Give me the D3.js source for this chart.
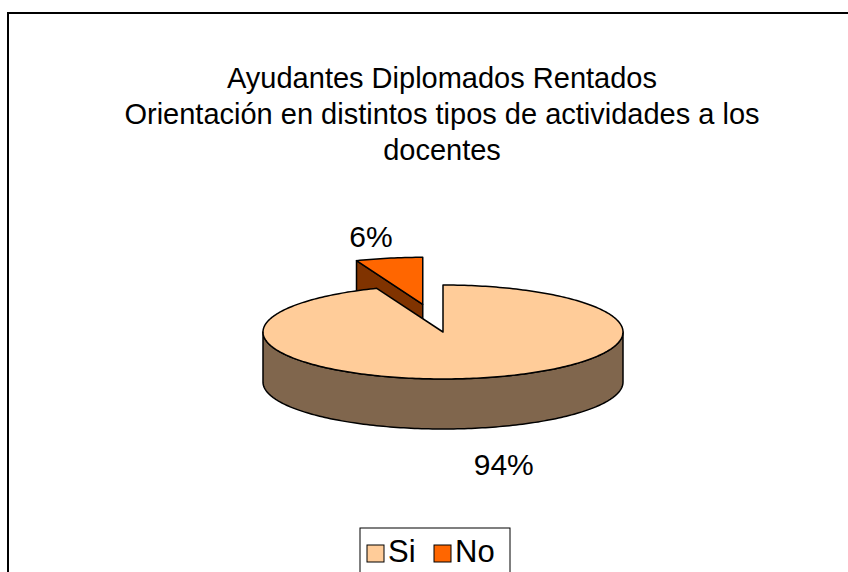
<!DOCTYPE html>
<html>
<head>
<meta charset="utf-8">
<script src="https://cdn.jsdelivr.net/npm/d3@7/dist/d3.min.js"></script>
<style>
  html, body { margin: 0; padding: 0; background: #fff; }
  svg { display: block; }
  text { font-family: "Liberation Sans", Arial, sans-serif; fill: #000; }
</style>
</head>
<body>
<svg id="chart" width="848" height="572"></svg>
<script>
// Survey answers and their shares (percent)
const categories = ["Si", "No"];
const values = [94, 6];
const topColors = ["#FFCC99", "#FF6600"];
const titleLines = [
  "Ayudantes Diplomados Rentados",
  "Orientación en distintos tipos de actividades a los",
  "docentes"
];

const W = 848, H = 572;
const svg = d3.select("#chart");

// outer chart frame (extends past the right and bottom edges)
svg.append("rect")
  .attr("x", 8).attr("y", 13)
  .attr("width", W + 20).attr("height", H + 20)
  .attr("fill", "#fff").attr("stroke", "#000").attr("stroke-width", 2);

// title
const title = svg.append("text")
  .attr("text-anchor", "middle")
  .style("font-size", "29px");
titleLines.forEach((t, i) => {
  title.append("tspan").attr("x", 442).attr("y", 88 + i * 36).text(t);
});

// 3D pie geometry
const cx = 443, cy = 332;
const rx = 180, tilt = 0.261;   // vertical squash of the disc
const depth = 50;
const explode = [0, 0.6];       // fraction of rx each slice is pulled out

const darken = c => { const r = d3.rgb(c); return d3.rgb(r.r / 2, r.g / 2, r.b / 2).toString(); };

const pie = d3.pie().sort(null).startAngle(0).endAngle(2 * Math.PI)(values);

// point on the disc: angle clockwise from 12 o'clock, radius r, lifted by z
function P(o, a, r, z) {
  return [o[0] + r * Math.sin(a), o[1] - r * Math.cos(a) * tilt + (z || 0)];
}
function arcPts(o, a0, a1, z) {
  const n = Math.max(4, Math.ceil(Math.abs(a1 - a0) / 0.02));
  return d3.range(n + 1).map(i => P(o, a0 + (a1 - a0) * i / n, rx, z));
}
const line = d3.line();

const slices = pie.map((d, i) => {
  const mid = (d.startAngle + d.endAngle) / 2;
  const e = explode[i] * rx;
  const o = [cx + e * Math.sin(mid), cy - e * Math.cos(mid) * tilt];
  return { d, i, mid, o };
});

const g = svg.append("g")
  .attr("stroke", "#000").attr("stroke-width", 1.5).attr("stroke-linejoin", "round");

// a radial cut face is seen when its outward normal points toward the viewer
const faceVisible = (a, sign) => sign * Math.sin(a) > 1e-6;

function drawSlice(s) {
  const { d, i, o } = s;
  const top = topColors[i], side = darken(top);
  const a0 = d.startAngle, a1 = d.endAngle;

  const cutFaces = [];
  if (faceVisible(a0, -1)) cutFaces.push(a0);
  if (faceVisible(a1, 1)) cutFaces.push(a1);
  cutFaces.forEach(a => {
    const p = P(o, a, rx);
    g.append("path")
      .attr("d", line([o, p, [p[0], p[1] + depth], [o[0], o[1] + depth]]) + "Z")
      .attr("fill", side);
  });

  // outer wall: only the front half of the rim is visible
  const lo = Math.max(a0, Math.PI / 2), hi = Math.min(a1, 3 * Math.PI / 2);
  if (hi > lo) {
    const upper = arcPts(o, lo, hi, 0);
    const lower = arcPts(o, hi, lo, depth);
    g.append("path").attr("d", line(upper.concat(lower)) + "Z").attr("fill", side);
  }

  // top face
  g.append("path")
    .attr("d", line([o].concat(arcPts(o, a0, a1, 0))) + "Z")
    .attr("fill", top);
}

// exploded slice sits behind the large one
slices.slice().reverse().forEach(drawSlice);

// percentage labels just outside each slice's rim
const total = d3.sum(values);
slices.forEach(s => {
  const front = Math.cos(s.mid) < 0;
  const rim = P(s.o, s.mid, rx, front ? depth : 0);
  const sx = Math.sign(Math.sin(s.mid));
  svg.append("text")
    .attr("x", rim[0] + sx * (front ? 27 : 18))
    .attr("y", rim[1] + (front ? 36 : -22))
    .attr("text-anchor", "middle")
    .attr("dominant-baseline", "central")
    .style("font-size", "30px")
    .text(Math.round(s.d.value / total * 100) + "%");
});

// legend
const lg = svg.append("g");
lg.append("rect")
  .attr("x", 360).attr("y", 528).attr("width", 150).attr("height", 60)
  .attr("fill", "#fff").attr("stroke", "#000").attr("stroke-width", 1);
const legendX = [367, 434];
categories.forEach((c, i) => {
  lg.append("rect")
    .attr("x", legendX[i]).attr("y", 545).attr("width", 17).attr("height", 17)
    .attr("fill", topColors[i]).attr("stroke", "#000").attr("stroke-width", 1);
  lg.append("text")
    .attr("x", legendX[i] + 21).attr("y", 562)
    .style("font-size", "31px")
    .text(c);
});
</script>
</body>
</html>
